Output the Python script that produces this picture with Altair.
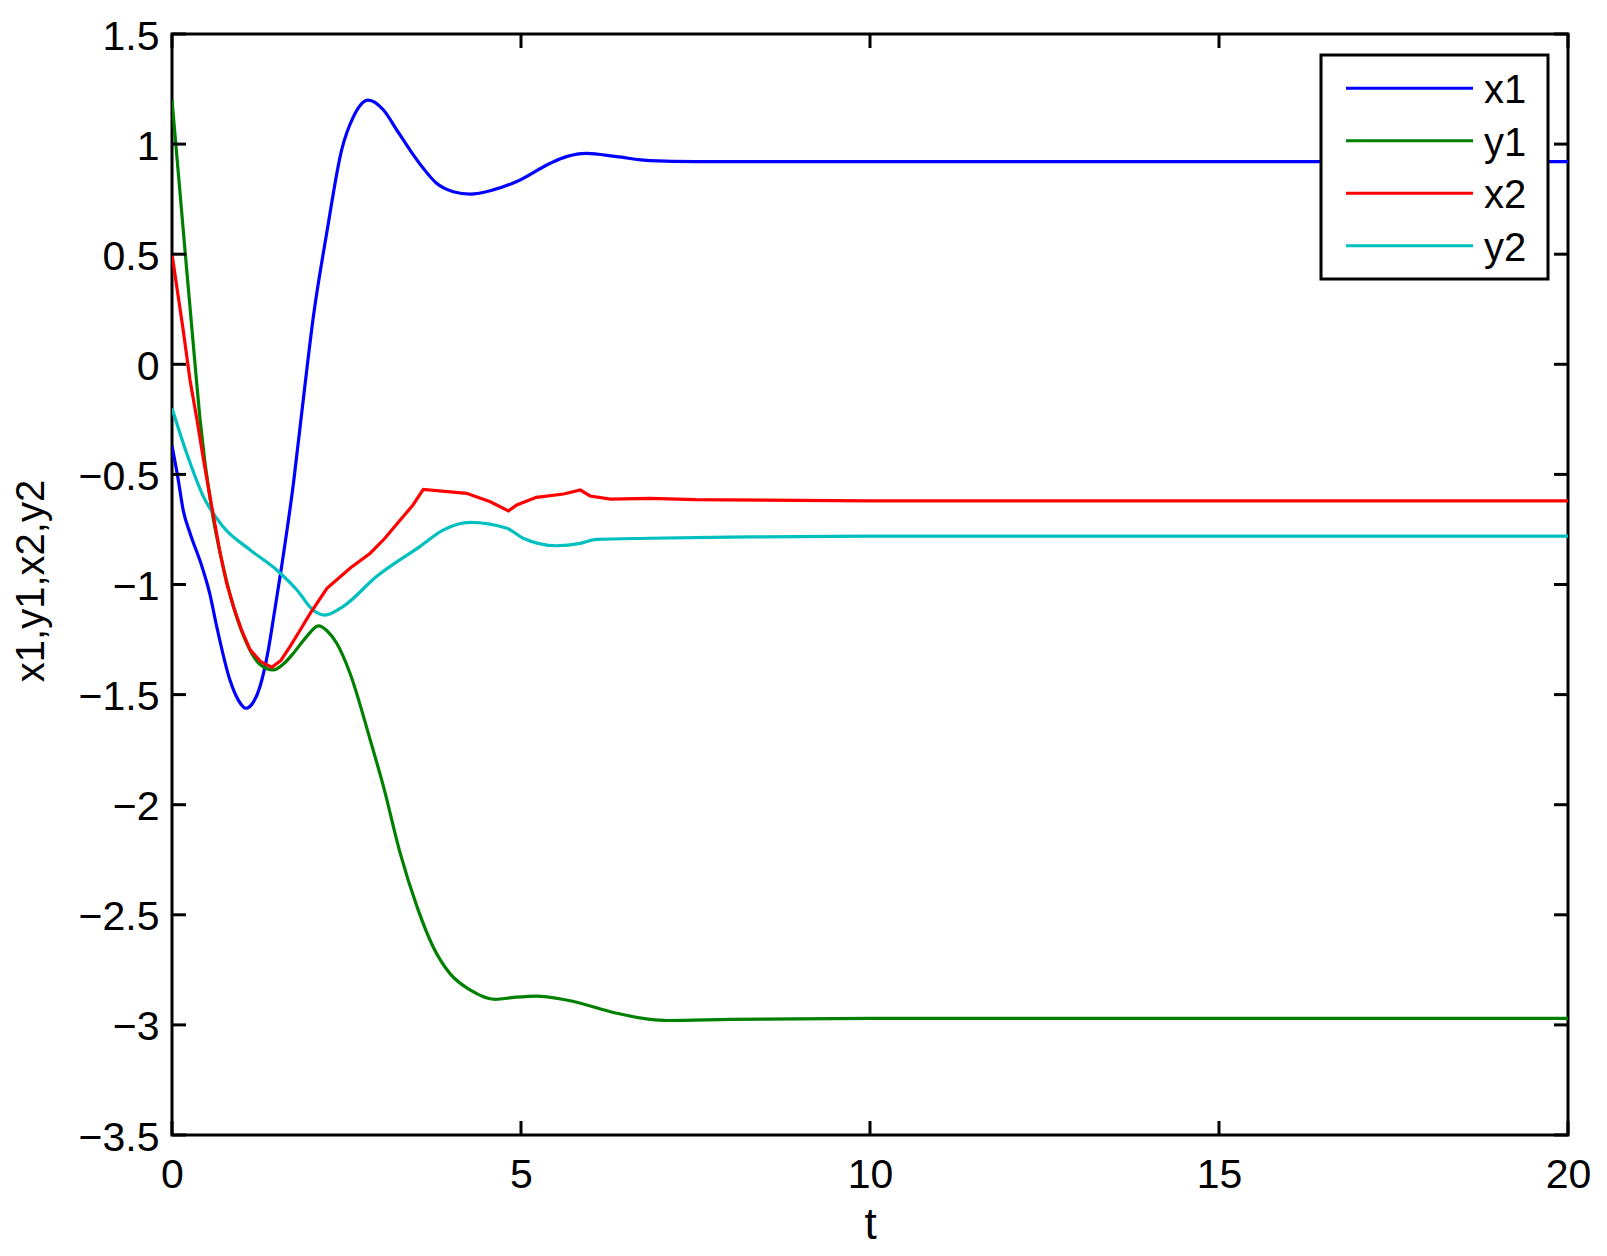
import altair as alt
import pandas as pd

# ---------------- data ----------------
series_names = ["x1", "y1", "x2", "y2"]
series_colors = ["#0000FF", "#008000", "#FF0000", "#00BFBF"]

t_x1 = [0, 0.09, 0.16, 0.26, 0.43, 0.54, 0.64, 0.83, 0.95, 1.06, 1.17, 1.26, 1.38, 1.47,
        1.57, 1.74, 1.88, 2.025, 2.216, 2.43, 2.60, 2.81, 3.03, 3.22, 3.41, 3.60,
        3.79, 4.03, 4.27, 4.60, 4.94, 5.42, 5.65, 5.94, 6.37, 6.85, 7.5, 10, 15, 20]
v_x1 = [-0.37, -0.525, -0.662, -0.768, -0.919, -1.04, -1.19, -1.434, -1.525, -1.562, -1.532,
        -1.464, -1.297, -1.12, -0.919, -0.540, -0.162, 0.216, 0.595, 0.973,
        1.125, 1.20, 1.155, 1.064, 0.973, 0.890, 0.822, 0.784, 0.773, 0.792, 0.83, 0.913,
        0.943, 0.958, 0.943, 0.925, 0.92, 0.92, 0.92, 0.92]

t_y1 = [0, 0.186, 0.35, 0.40, 0.57, 0.69, 0.88, 1.07, 1.25, 1.45, 1.6, 1.74, 1.92, 2.10,
        2.22, 2.36, 2.55, 2.84, 3.03, 3.27, 3.51, 3.74, 3.98, 4.27, 4.63, 4.9, 5.22, 5.65,
        6.37, 6.85, 7.1, 8, 10, 15, 20]
v_y1 = [1.2, 0.519, -0.071, -0.245, -0.662, -0.858, -1.10, -1.267, -1.36, -1.388, -1.36,
        -1.312, -1.24, -1.188, -1.21, -1.267, -1.403, -1.706, -1.918, -2.221, -2.463,
        -2.645, -2.766, -2.841, -2.884, -2.875, -2.869, -2.887, -2.947, -2.975, -2.98,
        -2.975, -2.97, -2.97, -2.97]

t_x2 = [0, 0.16, 0.258, 0.354, 0.45, 0.544, 0.69, 0.78, 0.88, 1.0, 1.12, 1.27, 1.43, 1.56,
        1.69, 1.83, 1.98, 2.22, 2.55, 2.84, 3.05, 3.27, 3.45, 3.60, 4.22, 4.56, 4.82, 4.94,
        5.22, 5.61, 5.85, 5.99, 6.28, 6.85, 7.5, 10, 15, 20]
v_x2 = [0.5, 0.156, -0.071, -0.245, -0.43, -0.601, -0.858, -0.99, -1.10, -1.21, -1.297,
        -1.35, -1.376, -1.345, -1.282, -1.21, -1.131, -1.017, -0.926, -0.858, -0.79,
        -0.707, -0.64, -0.568, -0.586, -0.624, -0.666, -0.639, -0.604, -0.589, -0.571,
        -0.598, -0.612, -0.609, -0.615, -0.62, -0.62, -0.62]

t_y2 = [0, 0.21, 0.45, 0.73, 1.12, 1.50, 1.79, 2.02, 2.19, 2.45, 2.93, 3.55, 3.89, 4.27,
        4.80, 5.03, 5.51, 5.85, 6.08, 6.85, 8, 10, 15, 20]
v_y2 = [-0.2, -0.404, -0.601, -0.737, -0.843, -0.934, -1.025, -1.116, -1.139, -1.10, -0.964,
        -0.828, -0.752, -0.718, -0.745, -0.790, -0.824, -0.813, -0.795, -0.790, -0.785,
        -0.78, -0.78, -0.78]

x_ticks = [0, 5, 10, 15, 20]
y_ticks = [-3.5, -3, -2.5, -2, -1.5, -1, -0.5, 0, 0.5, 1, 1.5]

# ---------------- build tables ----------------
rows = []
for name, ts, vs in zip(series_names, [t_x1, t_y1, t_x2, t_y2], [v_x1, v_y1, v_x2, v_y2]):
    for i, (t, v) in enumerate(zip(ts, vs)):
        rows.append({"series": name, "t": t, "v": v, "order": i})
df = pd.DataFrame(rows)
xt = pd.DataFrame({"tick": x_ticks})
yt = pd.DataFrame({"tick": y_ticks})

W, H = 1396, 1101
FONT = "Liberation Sans"
FS = 41
TICK = 14

xscale = alt.Scale(domain=[0, 20], nice=False, zero=False)
yscale = alt.Scale(domain=[-3.5, 1.5], nice=False, zero=False)
cscale = alt.Scale(domain=series_names, range=series_colors)

xaxis = alt.Axis(values=x_ticks, format="~g", title="t", grid=False, domain=False,
                 ticks=False, tickSize=0, labelFont=FONT, labelFontSize=FS,
                 labelBaseline="alphabetic", labelPadding=52, labelColor="black",
                 titleFont=FONT, titleFontSize=44, titleFontWeight="normal",
                 titleColor="black", titleBaseline="alphabetic", titleY=103,
                 labelFlush=False)
yaxis = alt.Axis(values=y_ticks, format="~g", title="x1,y1,x2,y2", grid=False,
                 domain=False, ticks=False, tickSize=0, labelFont=FONT, labelFontSize=FS,
                 labelBaseline="alphabetic", labelOffset=15, labelPadding=13,
                 labelColor="black", titleFont=FONT, titleFontSize=40,
                 titleFontWeight="normal", titleColor="black", titleAngle=270,
                 titleBaseline="alphabetic", titleX=-129, titleY=H / 2 - 4,
                 labelFlush=False)

base = alt.Chart(df).encode(
    x=alt.X("t:Q", scale=xscale, axis=xaxis),
    y=alt.Y("v:Q", scale=yscale, axis=yaxis),
    color=alt.Color("series:N", scale=cscale, legend=None),
    order="order:Q",
)
smooth_lines = base.transform_filter(
    alt.FieldOneOfPredicate(field="series", oneOf=["x1", "y1", "y2"])
).mark_line(strokeWidth=3.2, clip=True, interpolate="monotone")
sharp_lines = base.transform_filter(
    alt.FieldEqualPredicate(field="series", equal="x2")
).mark_line(strokeWidth=3.2, clip=True, interpolate="linear")

tick_style = dict(color="black", strokeWidth=3)
bottom_ticks = alt.Chart(xt).mark_rule(**tick_style).encode(
    x=alt.X("tick:Q", scale=xscale), y=alt.value(H), y2=alt.value(H - TICK))
top_ticks = alt.Chart(xt).mark_rule(**tick_style).encode(
    x=alt.X("tick:Q", scale=xscale), y=alt.value(0), y2=alt.value(TICK))
left_ticks = alt.Chart(yt).mark_rule(**tick_style).encode(
    y=alt.Y("tick:Q", scale=yscale), x=alt.value(0), x2=alt.value(TICK))
right_ticks = alt.Chart(yt).mark_rule(**tick_style).encode(
    y=alt.Y("tick:Q", scale=yscale), x=alt.value(W), x2=alt.value(W - TICK))

# ---------------- legend (drawn by hand, MATLAB style) ----------------
LX0, LX1, LY0, LY1 = 1149, 1376, 21, 245
leg_df = pd.DataFrame({"series": series_names, "row": list(range(len(series_names)))})
legend_box = alt.Chart(leg_df.head(1)).mark_rect(
    fill="white", stroke="black", strokeWidth=3).encode(
    x=alt.value(LX0), x2=alt.value(LX1), y=alt.value(LY0), y2=alt.value(LY1))
legend_layers = [legend_box]
ROW0, ROWSTEP = 54.3, 52.5
for i, name in enumerate(series_names):
    yy = ROW0 + i * ROWSTEP
    sub = leg_df[leg_df["series"] == name]
    legend_layers.append(
        alt.Chart(sub).mark_rule(strokeWidth=3).encode(
            x=alt.value(1174), x2=alt.value(1301), y=alt.value(yy),
            color=alt.Color("series:N", scale=cscale, legend=None)))
    legend_layers.append(
        alt.Chart(sub).mark_text(align="left", baseline="alphabetic", font=FONT,
                                 fontSize=40, color="black").encode(
            x=alt.value(1312), y=alt.value(yy + 15), text="series:N"))

chart = alt.layer(
    smooth_lines, sharp_lines, bottom_ticks, top_ticks, left_ticks, right_ticks,
    *legend_layers
).properties(
    width=W, height=H,
    autosize=alt.AutoSizeParams(type="none"),
    padding={"left": 164, "top": 26, "right": 31, "bottom": 113},
    background="white",
).configure_view(stroke="black", strokeWidth=3)

chart.save("out.html", embed_options={"renderer": "svg", "actions": False})
